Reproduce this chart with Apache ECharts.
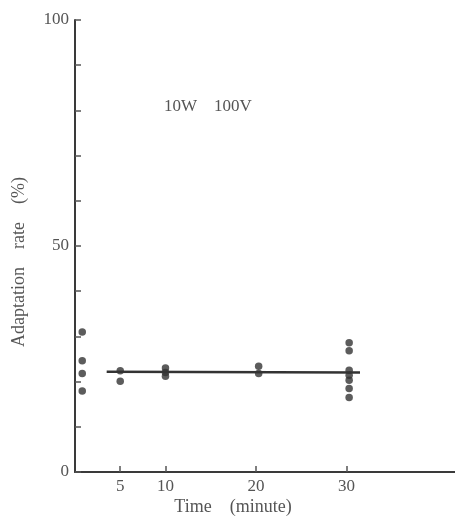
<!DOCTYPE html>
<html>
<head>
<meta charset="utf-8">
<script src="https://cdn.jsdelivr.net/npm/echarts@6/dist/echarts.min.js"></script>
<style>html,body{margin:0;padding:0;background:#fff;}#c{width:455px;height:516px;}</style>
</head>
<body>
<div id="c"></div>
<script>
// Data
const xTicks = [5, 10, 20, 30];
const yTicks = [0, 10, 20, 30, 40, 50, 60, 70, 80, 90, 100];
const yLabels = [0, 50, 100];
const pointsT0 = [[0.8, 31.0], [0.8, 24.6], [0.8, 21.8], [0.8, 17.9]];
const pointsT5 = [[5, 22.4], [5, 20.1]];
const pointsT10 = [[10, 23.0], [10, 22.0], [10, 21.2]];
const pointsT20 = [[20.3, 23.4], [20.3, 21.8]];
const pointsT30 = [[30.3, 28.6], [30.3, 26.8], [30.3, 22.5], [30.3, 21.4], [30.3, 20.3], [30.3, 18.5], [30.3, 16.5]];
const fitLine = [[3.5, 22.2], [31.5, 22.0]];
const annotation = '10W\u2003100V';
const xName = 'Time\u2003(minute)';
const yName = 'Adaptation\u2003rate\u2003(%)';

const font = '"Liberation Serif", "DejaVu Serif", serif';
const txt = '#555';
const allPoints = [].concat(pointsT0, pointsT5, pointsT10, pointsT20, pointsT30);

const chart = echarts.init(document.getElementById('c'));
chart.setOption({
  animation: false,
  backgroundColor: '#fff',
  grid: { left: 75, right: 0, top: 20, bottom: 44 },
  xAxis: {
    type: 'value', min: 0, max: 42,
    axisLine: { lineStyle: { color: '#3a3a3a', width: 2 } },
    splitLine: { show: false },
    axisTick: { inside: true, length: 6, customValues: xTicks, lineStyle: { color: '#555', width: 1.5 } },
    axisLabel: { customValues: xTicks, color: txt, fontFamily: font, fontSize: 17, margin: 6 }
  },
  yAxis: {
    type: 'value', min: 0, max: 100, interval: 10,
    axisLine: { show: true, lineStyle: { color: '#3a3a3a', width: 2 } },
    splitLine: { show: false },
    axisTick: { show: true, inside: true, length: 6, customValues: yTicks, lineStyle: { color: '#555', width: 1.5 } },
    axisLabel: { customValues: yLabels, color: txt, fontFamily: font, fontSize: 17, margin: 6 }
  },
  graphic: [
    { type: 'text', left: 164, top: 98, style: { text: annotation, fill: txt, font: '17px ' + font } },
    { type: 'text', x: 233, y: 507, style: { text: xName, fill: txt, font: '18px ' + font, align: 'center', verticalAlign: 'middle' } },
    { type: 'text', x: 19, y: 262, rotation: Math.PI / 2, style: { text: yName, fill: txt, font: '18px ' + font, align: 'center', verticalAlign: 'middle' } }
  ],
  series: [
    { type: 'scatter', data: allPoints, symbolSize: 7.5, itemStyle: { color: '#333' } },
    { type: 'line', data: fitLine, symbol: 'none', lineStyle: { color: '#333', width: 2.5 } }
  ]
});
</script>
</body>
</html>
